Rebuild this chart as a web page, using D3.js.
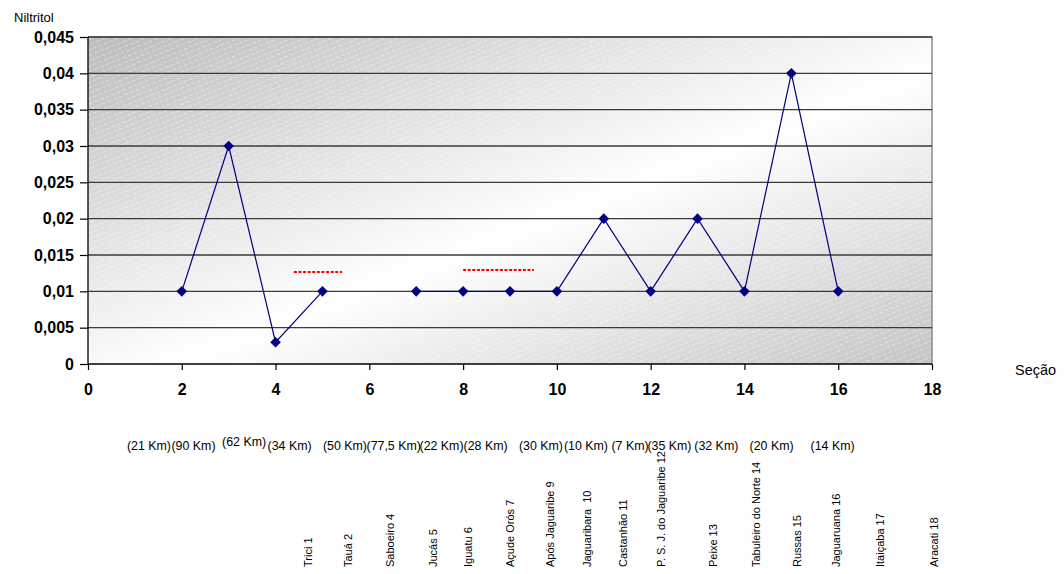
<!DOCTYPE html>
<html>
<head>
<meta charset="utf-8">
<script src="https://cdn.jsdelivr.net/npm/d3@7"></script>
<style>
  body { margin: 0; background: #fff; }
  text { font-family: "Liberation Sans", Arial, sans-serif; }
</style>
</head>
<body>
<div id="chart"></div>
<script>
// Store width and height parameters
let svgWidth = 1064;
let svgHeight = 574;

let margin = { top: 37, right: 132, bottom: 210, left: 88 };
let width = svgWidth - margin.left - margin.right;
let height = svgHeight - margin.top - margin.bottom;

// Data
let secoes = [2, 3, 4, 5, null, 7, 8, 9, 10, 11, 12, 13, 14, 15, 16];
let niltritol = [0.01, 0.03, 0.003, 0.01, null, 0.01, 0.01, 0.01, 0.01, 0.02, 0.01, 0.02, 0.01, 0.04, 0.01];

// red dotted reference segments [x1, x2, y]
let refLines = [[4.39, 5.42, 0.01266], [8.0, 9.51, 0.01294]];

let xTicks = [0, 2, 4, 6, 8, 10, 12, 14, 16, 18];
let yTicks = [0, 0.005, 0.01, 0.015, 0.02, 0.025, 0.03, 0.035, 0.04, 0.045];

let kmLabels = ["(21 Km)", "(90 Km)", "(62 Km)", "(34 Km)", "(50 Km)", "(77,5 Km)", "(22 Km)", "(28 Km)",
  "(30 Km)", "(10 Km)", "(7 Km)", "(35 Km)", "(32 Km)", "(20 Km)", "(14 Km)"];
let kmAt = [1.30, 2.25, 3.33, 4.30, 5.48, 6.52, 7.54, 8.48, 9.66, 10.62, 11.56, 12.40, 13.40, 14.58, 15.88];

let pontos = ["Trici 1", "Tauá 2", "Saboeiro 4", "Jucás 5", "Iguatu 6", "Açude Orós 7", "Após Jaguaribe 9",
  "Jaguaribara  10", "Castanhão 11", "P. S. J. do Jaguaribe 12", "Peixe 13", "Tabuleiro do Norte 14",
  "Russas 15", "Jaguaruana 16", "Itaiçaba 17", "Aracati 18"];
let pontosAt = [4.69, 5.54, 6.44, 7.36, 8.10, 9.0, 9.85, 10.64, 11.41, 12.22, 13.33, 14.26, 15.12, 15.95, 16.89, 18.04];

let svg = d3.select("#chart")
  .append("svg")
  .attr("width", svgWidth)
  .attr("height", svgHeight);

let defs = svg.append("defs");

// plot area fill: diagonal gray-white-gray gradient
let grad = defs.append("linearGradient")
  .attr("id", "bg")
  .attr("x1", 0).attr("y1", 0).attr("x2", 1).attr("y2", 1);
grad.append("stop").attr("offset", "0%").attr("stop-color", "#bcbcbc");
grad.append("stop").attr("offset", "55%").attr("stop-color", "#ffffff");
grad.append("stop").attr("offset", "100%").attr("stop-color", "#c4c4c4");

// faint hatch
let pat = defs.append("pattern")
  .attr("id", "hatch")
  .attr("patternUnits", "userSpaceOnUse")
  .attr("width", 12).attr("height", 5)
  .attr("patternTransform", "rotate(-22)");
pat.append("line")
  .attr("x1", 0).attr("y1", 2.5).attr("x2", 12).attr("y2", 2.5)
  .attr("stroke", "#ffffff")
  .attr("stroke-opacity", 0.4)
  .attr("stroke-width", 1)
  .attr("stroke-dasharray", "4,2");

let chartGroup = svg.append("g")
  .attr("transform", `translate(${margin.left}, ${margin.top})`);

let xScale = d3.scaleLinear().domain([0, 18]).range([0, width]);
let yScale = d3.scaleLinear().domain([0, 0.045]).range([height, 0]);

// background
chartGroup.append("rect")
  .attr("width", width).attr("height", height)
  .attr("fill", "url(#bg)");
chartGroup.append("rect")
  .attr("width", width).attr("height", height)
  .attr("fill", "url(#hatch)");

// border (top/right gray)
chartGroup.append("path")
  .attr("d", `M0,0H${width}V${height}`)
  .attr("fill", "none")
  .attr("stroke", "#8c8c8c")
  .attr("stroke-width", 1.5);

// gridlines
chartGroup.selectAll(".grid")
  .data(yTicks.filter(d => d > 0))
  .enter()
  .append("line")
  .attr("x1", 0).attr("x2", width)
  .attr("y1", d => yScale(d)).attr("y2", d => yScale(d))
  .attr("stroke", "#3a3a3a")
  .attr("stroke-width", 1.3);

// axes
let leftAxis = d3.axisLeft(yScale)
  .tickValues(yTicks)
  .tickSize(8)
  .tickPadding(6)
  .tickFormat(d => d === 0 ? "0" : d3.format(".3~f")(d).replace(".", ","));
let bottomAxis = d3.axisBottom(xScale)
  .tickValues(xTicks)
  .tickSize(6)
  .tickPadding(14)
  .tickFormat(d3.format("d"));

let yAxisG = chartGroup.append("g").call(leftAxis);
let xAxisG = chartGroup.append("g")
  .attr("transform", `translate(0, ${height})`)
  .call(bottomAxis);

[yAxisG, xAxisG].forEach(g => {
  g.select(".domain").attr("stroke", "#000").attr("stroke-width", 1.3);
  g.selectAll(".tick line").attr("stroke", "#000").attr("stroke-width", 1.2);
  g.selectAll(".tick text")
    .attr("fill", "#000")
    .style("font-size", "16px")
    .style("font-weight", "bold")
    .style("font-family", "'Liberation Sans', Arial, sans-serif");
});
yAxisG.select(".domain").attr("d", `M0,0V${height}`);
xAxisG.select(".domain").attr("d", `M0,0H${width}`);

// red dotted segments
chartGroup.selectAll(".ref")
  .data(refLines)
  .enter()
  .append("line")
  .attr("x1", d => xScale(d[0])).attr("x2", d => xScale(d[1]))
  .attr("y1", d => yScale(d[2])).attr("y2", d => yScale(d[2]))
  .attr("stroke", "#ff0000")
  .attr("stroke-width", 2)
  .attr("stroke-dasharray", "3,1.6");

// series line
let pts = secoes.map((s, i) => ({ x: s, y: niltritol[i] }));
let line = d3.line()
  .defined(d => d.x !== null && d.y !== null)
  .x(d => xScale(d.x))
  .y(d => yScale(d.y));

chartGroup.append("path")
  .datum(pts)
  .attr("d", line)
  .attr("fill", "none")
  .attr("stroke", "#000080")
  .attr("stroke-width", 1.2);

chartGroup.selectAll(".pt")
  .data(pts.filter(d => d.x !== null))
  .enter()
  .append("path")
  .attr("d", d3.symbol().type(d3.symbolDiamond2).size(72))
  .attr("transform", d => `translate(${xScale(d.x)}, ${yScale(d.y)})`)
  .attr("fill", "#000080");

// axis titles
svg.append("text")
  .attr("x", 14).attr("y", 22)
  .style("font-size", "13px")
  .text("Niltritol");

svg.append("text")
  .attr("x", 1015).attr("y", 375)
  .style("font-size", "14.5px")
  .text("Seção");

// km labels
chartGroup.selectAll(".km")
  .data(kmLabels)
  .enter()
  .append("text")
  .attr("x", (d, i) => xScale(kmAt[i]))
  .attr("y", (d, i) => height + (d === "(62 Km)" ? 82 : 86))
  .attr("text-anchor", "middle")
  .style("font-size", "12.4px")
  .text(d => d);

// section names, rotated
chartGroup.selectAll(".ponto")
  .data(pontos)
  .enter()
  .append("text")
  .attr("transform", (d, i) => `translate(${xScale(pontosAt[i])}, ${567 - margin.top}) rotate(-90)`)
  .attr("dy", "0.35em")
  .attr("xml:space", "preserve")
  .style("font-size", "11px")
  .style("white-space", "pre")
  .text(d => d);
</script>
</body>
</html>
